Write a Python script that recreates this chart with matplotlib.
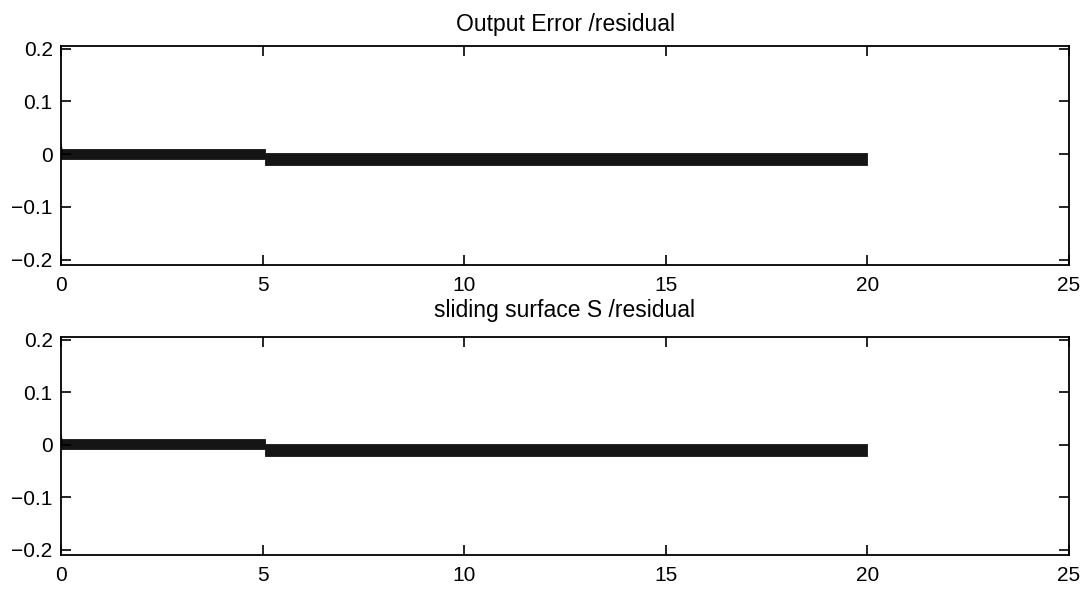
import matplotlib
matplotlib.use("Agg")
import matplotlib.pyplot as plt

plt.rcParams['font.family'] = ['Liberation Sans', 'DejaVu Sans']

titles = ["Output Error /residual", "sliding surface S /residual"]
xticks = [0, 5, 10, 15, 20, 25]
yticks = [-0.2, -0.1, 0, 0.1, 0.2]
ytick_labels = ["\u22120.2", "\u22120.1", "0", "0.1", "0.2"]

# band (chattering envelope) of the residual signal, per segment
seg_t = [0.0, 5.05, 5.05, 20.0]
band_low_top = [-0.009, -0.009, -0.021, -0.021]
band_high_top = [0.010, 0.010, 0.002, 0.002]
band_low_bot = [-0.009, -0.009, -0.021, -0.021]
band_high_bot = [0.010, 0.010, 0.002, 0.002]
# initial transient at t=0
spike_t = [0.0, 0.03]
spike_y = [0.018, 0.004]

fig = plt.figure(figsize=(10.89, 5.90), dpi=100)
ax1 = fig.add_axes([61/1089, 1-265/590, 1008/1089, 219/590])
ax2 = fig.add_axes([61/1089, 1-555/590, 1008/1089, 218/590])

for ax, title, lo, hi, tpad in [(ax1, titles[0], band_low_top, band_high_top, 11),
                                (ax2, titles[1], band_low_bot, band_high_bot, 14.5)]:
    ax.fill_between(seg_t, lo, hi, color='#151515', linewidth=0.6, edgecolor='#151515')
    ax.plot(spike_t, spike_y, color='black', lw=1.0)
    ax.set_xlim(0, 25)
    ax.set_ylim(-0.21, 0.205)
    ax.set_xticks(xticks)
    ax.set_xticklabels([str(v) for v in xticks])
    ax.set_yticks(yticks)
    ax.set_yticklabels(ytick_labels)
    ax.tick_params(direction='in', length=7, width=1.2, top=True, right=True,
                   labelsize=15, colors='black')
    ax.tick_params(axis='x', pad=8)
    ax.tick_params(axis='y', pad=6)
    for s in ax.spines.values():
        s.set_linewidth(1.3)
    ax.set_title(title, fontsize=16.5, pad=tpad)

fig.savefig("out.png", dpi=100)
